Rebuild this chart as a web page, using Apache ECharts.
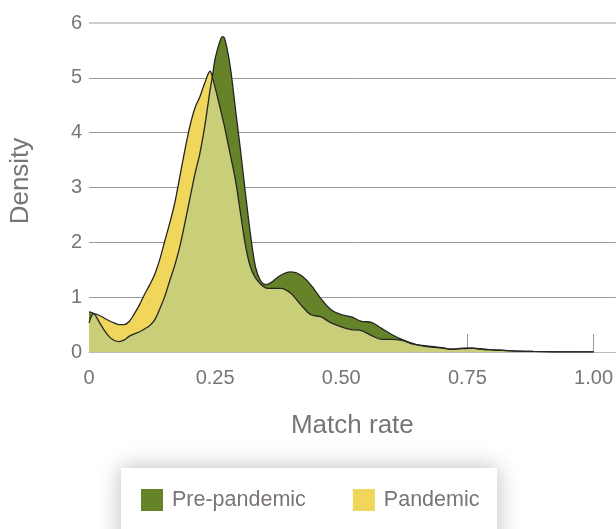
<!DOCTYPE html>
<html>
<head>
<meta charset="utf-8">
<script src="https://cdn.jsdelivr.net/npm/echarts@6/dist/echarts.min.js"></script>
<style>
html,body{margin:0;padding:0;background:#fff;}
#chart{width:616px;height:529px;}
</style>
</head>
<body>
<div id="chart"></div>
<script>
// Shared x positions (match rate)
const matchRate = [0,0.01,0.02,0.03,0.04,0.05,0.06,0.07,0.08,0.09,0.10,0.11,0.12,0.13,0.14,0.15,0.16,0.17,0.18,0.19,0.20,0.21,0.22,0.23,0.24,0.245,0.25,0.26,0.265,0.27,0.28,0.29,0.30,0.31,0.32,0.33,0.34,0.35,0.36,0.38,0.40,0.42,0.44,0.46,0.48,0.50,0.52,0.54,0.56,0.58,0.60,0.62,0.64,0.66,0.68,0.70,0.72,0.74,0.76,0.78,0.80,0.84,0.88,0.92,0.96,1.00];
// Density, pre-pandemic
const prePandemic = [0.73,0.70,0.55,0.40,0.28,0.21,0.19,0.22,0.29,0.33,0.37,0.42,0.48,0.58,0.78,1.01,1.30,1.58,1.92,2.35,2.80,3.25,3.63,4.15,4.78,5.05,5.35,5.68,5.75,5.68,5.20,4.45,3.70,2.90,2.15,1.55,1.30,1.23,1.26,1.40,1.46,1.40,1.22,0.97,0.77,0.68,0.64,0.56,0.54,0.43,0.32,0.23,0.16,0.11,0.09,0.07,0.05,0.07,0.07,0.05,0.04,0.02,0.01,0.005,0.003,0.003];
// Density, pandemic
const pandemic = [0.53,0.70,0.67,0.62,0.57,0.53,0.50,0.50,0.56,0.70,0.86,1.05,1.22,1.41,1.68,2.02,2.35,2.72,3.20,3.68,4.12,4.45,4.66,4.92,5.12,5.00,4.82,4.45,4.25,4.05,3.60,3.15,2.55,1.95,1.55,1.35,1.24,1.17,1.16,1.16,1.07,0.86,0.68,0.64,0.53,0.46,0.41,0.39,0.30,0.23,0.23,0.21,0.15,0.12,0.10,0.08,0.05,0.06,0.07,0.05,0.04,0.02,0.01,0.005,0.003,0.003];
const xTicks = [0,0.25,0.5,0.75,1];
const xTickLabels = ['0','0.25','0.50','0.75','1.00'];

const toPairs = arr => matchRate.map((x,i)=>[x,arr[i]]);
const overlap = matchRate.map((x,i)=>[x,Math.min(prePandemic[i],pandemic[i])]);

const FONT = 'Liberation Sans';
const TXT = '#7a7475';
const SM = 0.35;

const chart = echarts.init(document.getElementById('chart'));
chart.setOption({
  animation:false,
  textStyle:{fontFamily:FONT},
  grid:{left:89,right:0,top:23,bottom:177},
  graphic:[{
    type:'rect',z:0,
    shape:{x:121,y:468,width:376,height:90},
    style:{fill:'#fff',shadowBlur:22,shadowColor:'rgba(0,0,0,0.28)'}
  },{
    type:'text',z:5,
    x:21,y:181,rotation:Math.PI/2,
    style:{text:'Density',fontSize:26,fill:TXT,fontFamily:FONT,textAlign:'center',textVerticalAlign:'middle'}
  }],
  legend:{
    z:10,
    left:141,top:489,padding:0,
    itemWidth:22,itemHeight:22,itemGap:47,
    icon:'rect',
    textStyle:{fontSize:21.5,color:TXT,fontFamily:FONT,padding:[0,0,0,4]},
    data:[{name:'Pre-pandemic',itemStyle:{color:'#67832a'}},{name:'Pandemic',itemStyle:{color:'#f1d65c'}}]
  },
  xAxis:{
    type:'value',min:0,max:1.044,
    name:'Match rate',nameLocation:'middle',nameGap:61,
    nameTextStyle:{fontSize:26,color:TXT,fontFamily:FONT},
    axisLine:{lineStyle:{color:'#bbb',width:1}},
    axisTick:{show:true,inside:true,length:18,customValues:xTicks,lineStyle:{color:'#999'}},
    axisLabel:{customValues:xTicks,fontSize:20,color:TXT,margin:16,
      formatter:v=>{const i=xTicks.findIndex(t=>Math.abs(t-v)<1e-6);return i>=0?xTickLabels[i]:'';}},
    splitLine:{show:false}
  },
  yAxis:{
    type:'value',min:0,max:6,interval:1,
    axisLine:{show:false},axisTick:{show:false},
    axisLabel:{fontSize:20,color:TXT,margin:7},
    splitLine:{lineStyle:{color:['#999','#999','#999','#999','#999','#999','#cfcfcf'],width:1}}
  },
  series:[
    {name:'Pre-pandemic',type:'line',data:toPairs(prePandemic),smooth:SM,showSymbol:false,
      lineStyle:{width:0},itemStyle:{color:'#67832a'},areaStyle:{color:'#67832a',opacity:1},z:2,
      markLine:{silent:true,symbol:'none',label:{show:false},animation:false,
        lineStyle:{color:'#cdcdcd',width:2,type:'solid'},data:[{yAxis:6}]}},
    {name:'Pandemic',type:'line',data:toPairs(pandemic),smooth:SM,showSymbol:false,
      lineStyle:{width:0},itemStyle:{color:'#f1d65c'},areaStyle:{color:'#f1d65c',opacity:1},z:3},
    {name:'overlap',type:'line',data:overlap,smooth:SM,showSymbol:false,
      lineStyle:{width:0},areaStyle:{color:'#c9cf79',opacity:1},z:4},
    {name:'preLine',type:'line',data:toPairs(prePandemic),smooth:SM,showSymbol:false,
      lineStyle:{width:1.3,color:'#252525'},z:5},
    {name:'panLine',type:'line',data:toPairs(pandemic),smooth:SM,showSymbol:false,
      lineStyle:{width:1.3,color:'#252525'},z:6}
  ]
});
</script>
</body>
</html>
